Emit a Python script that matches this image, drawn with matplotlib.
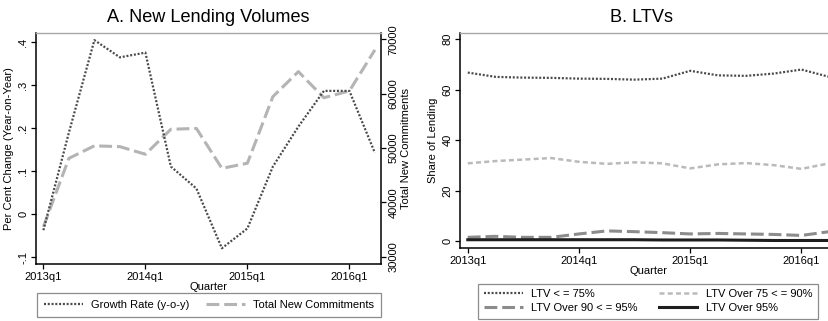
import matplotlib
matplotlib.use("Agg")
import matplotlib.pyplot as plt

plt.rcParams['font.family'] = ['Liberation Sans', 'DejaVu Sans']

# Quarterly series, 2013q1 .. 2016q2
quarters = ["2013q1", "2013q2", "2013q3", "2013q4",
            "2014q1", "2014q2", "2014q3", "2014q4",
            "2015q1", "2015q2", "2015q3", "2015q4",
            "2016q1", "2016q2"]
tick_labels = ["2013q1", "2014q1", "2015q1", "2016q1"]

growth_rate = [-0.037, 0.19, 0.405, 0.365, 0.376, 0.111, 0.060, -0.079,
               -0.033, 0.111, 0.204, 0.287, 0.287, 0.143]
new_commitments = [35500, 48100, 50400, 50250, 48850, 53450, 53600, 46250,
                   47200, 59450, 64050, 59250, 60500, 68050]

ltv_le75 = [66.8, 65.1, 64.8, 64.7, 64.4, 64.3, 64.0, 64.4,
            67.5, 65.7, 65.5, 66.4, 68.0, 65.1]
ltv_75_90 = [30.8, 31.7, 32.3, 32.9, 31.4, 30.6, 31.2, 30.8,
             28.8, 30.4, 30.9, 30.1, 28.6, 30.8]
ltv_90_95 = [1.45, 1.85, 1.45, 1.45, 2.8, 4.0, 3.7, 3.3,
             2.8, 3.0, 2.8, 2.6, 2.2, 3.7]
ltv_over95 = [0.5, 0.5, 0.5, 0.5, 0.5, 0.5, 0.5, 0.4,
              0.4, 0.4, 0.3, 0.2, 0.2, 0.2]

x = list(range(len(quarters)))
tick_pos = [quarters.index(t) for t in tick_labels]

W, H = 829, 321
fig = plt.figure(figsize=(W / 100, H / 100), dpi=100)


def px_axes(left, top, right, bottom):
    return fig.add_axes([left / W, 1 - bottom / H, (right - left) / W, (bottom - top) / H])


FS = 8.0
TITLE_FS = 13.1
DOT = (0, (0.9, 0.8))
C_DOT = "#4a4a4a"
LONG_DASH = (0, (4.2, 1.6))


def style_axis(ax):
    for s in ("left", "bottom"):
        ax.spines[s].set_color("black")
        ax.spines[s].set_linewidth(1.1)
    ax.spines["top"].set_color("#a8a8a8")
    ax.spines["top"].set_linewidth(1.0)
    ax.spines["right"].set_visible(False)
    ax.tick_params(direction="out", length=3.5, width=0.9, labelsize=FS, pad=2)
    for lab in ax.get_yticklabels():
        lab.set_rotation(90)
        lab.set_va("center")


# ---- Panel A: lending volumes ----
axA = px_axes(36, 33, 381, 264)
axA.plot(x, growth_rate, color=C_DOT, lw=1.6, linestyle=DOT, label="Growth Rate (y-o-y)")
axA.set_xlim(-0.29, 13.24)
axA.set_ylim(-0.1156, 0.4216)
axA.set_yticks([-0.1, 0, 0.1, 0.2, 0.3, 0.4])
axA.set_yticklabels(["-.1", "0", ".1", ".2", ".3", ".4"])
axA.set_xticks(tick_pos)
axA.set_xticklabels(tick_labels)
style_axis(axA)
axA.set_ylabel("Per Cent Change (Year-on-Year)", fontsize=FS, labelpad=3)
axA.set_xlabel("Quarter", fontsize=FS, labelpad=0)
axA.set_title("A. New Lending Volumes", fontsize=TITLE_FS, pad=8)

axA2 = axA.twinx()
axA2.plot(x, new_commitments, color="#b4b4b4", lw=2.2, linestyle=LONG_DASH,
          label="Total New Commitments")
axA2.set_ylim(28657, 71160)
axA2.set_yticks([30000, 40000, 50000, 60000, 70000])
for s in ("left", "top", "bottom"):
    axA2.spines[s].set_visible(False)
axA2.spines["right"].set_color("black")
axA2.spines["right"].set_linewidth(1.1)
axA2.tick_params(direction="out", length=3.5, width=0.9, labelsize=FS, pad=2)
for lab in axA2.get_yticklabels():
    lab.set_rotation(90)
    lab.set_va("center")
axA2.set_ylabel("Total New Commitments", fontsize=FS, labelpad=2)
# growth line drawn above the commitments line
axA.set_zorder(axA2.get_zorder() + 1)
axA.patch.set_visible(False)

legA = fig.legend(handles=[axA.get_lines()[0], axA2.get_lines()[0]],
                  labels=["Growth Rate (y-o-y)", "Total New Commitments"],
                  loc="center", bbox_to_anchor=(209 / W, 1 - 305 / H), ncol=2,
                  fontsize=FS, frameon=True, fancybox=False, handlelength=3.5,
                  handletextpad=0.75, columnspacing=1.5, borderpad=0.65)
legA.get_frame().set_edgecolor("#707070")
legA.get_frame().set_linewidth(0.9)

# ---- Panel B: loan-to-value shares ----
axB = px_axes(460, 33, 837, 248.3)
axB.plot(x, ltv_le75, color=C_DOT, lw=1.6, linestyle=DOT, label="LTV < = 75%")
axB.plot(x, ltv_75_90, color="#bababa", lw=1.8, linestyle=(0, (2.0, 1.3)), label="LTV Over 75 < = 90%")
axB.plot(x, ltv_90_95, color="#8c8c8c", lw=2.2, linestyle=LONG_DASH, label="LTV Over 90 < = 95%")
axB.plot(x, ltv_over95, color="#1e1e1e", lw=2.2, linestyle="-", label="LTV Over 95%")
axB.set_xlim(-0.28, 13.28)
axB.set_ylim(-2.9, 82.5)
axB.set_yticks([0, 20, 40, 60, 80])
axB.set_xticks(tick_pos)
axB.set_xticklabels(tick_labels)
style_axis(axB)
axB.set_ylabel("Share of Lending", fontsize=FS, labelpad=3)
axB.set_xlabel("Quarter", fontsize=FS, labelpad=0)
axB.set_title("B. LTVs", fontsize=TITLE_FS, pad=8, x=(642 - 460) / (837 - 460))

hB = axB.get_lines()
order = [0, 2, 1, 3]
legB = fig.legend(handles=[hB[i] for i in order],
                  labels=[hB[i].get_label() for i in order],
                  loc="center", bbox_to_anchor=(648 / W, 1 - 301.3 / H), ncol=2,
                  fontsize=FS, frameon=True, fancybox=False, handlelength=3.5,
                  handletextpad=0.75, columnspacing=1.9, borderpad=0.5, labelspacing=0.35)
legB.get_frame().set_edgecolor("#707070")
legB.get_frame().set_linewidth(0.9)

fig.savefig("out.png", dpi=100)
